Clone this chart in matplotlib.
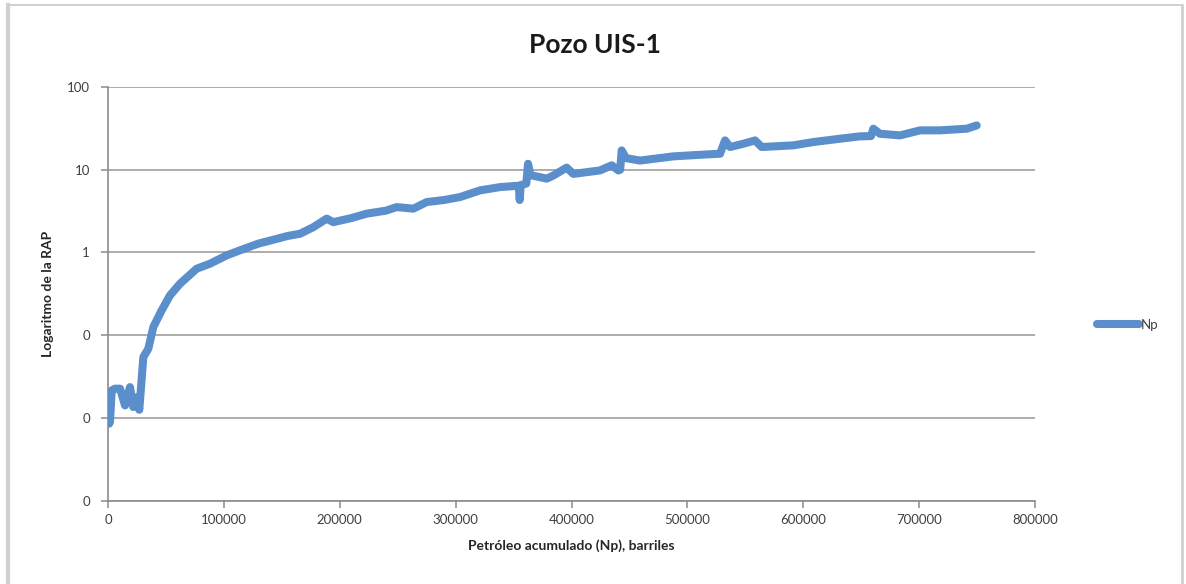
import matplotlib
matplotlib.use("Agg")
import matplotlib.pyplot as plt
from matplotlib.lines import Line2D

# Cumulative oil (barrels) and water-oil ratio (RAP) for well UIS-1
np_barrels = [
    1000, 1700, 3200, 6000, 10400, 14700, 19000, 21800, 24800, 27000,
    30500, 34800, 39100, 46300, 53500, 62100, 76500, 88000, 102400, 113900,
    130000, 145000, 155000, 165700, 177200, 188700, 194400, 210000, 223200, 240000,
    249100, 263500, 275000, 290000, 303800, 321000, 338300, 354500, 355300, 356200,
    361000, 362500, 364500, 378600, 384300, 395800, 401600, 424600, 434700, 440400,
    442000, 443300, 447000, 459100, 487900, 516700, 528200, 532500, 536800, 548300,
    558400, 564100, 591400, 608700, 631800, 649000, 658500, 660500, 666200, 683500,
    700800, 718000, 741000, 749700,
]
rap = [
    0.0085, 0.0089, 0.0214, 0.0225, 0.0225, 0.0141, 0.0235, 0.0135, 0.0177, 0.0125,
    0.0542, 0.0685, 0.125, 0.199, 0.302, 0.418, 0.635, 0.73, 0.92, 1.06,
    1.28, 1.45, 1.58, 1.68, 2.02, 2.56, 2.32, 2.6, 2.94, 3.2,
    3.53, 3.38, 4.06, 4.3, 4.67, 5.62, 6.16, 6.4, 4.3, 6.5,
    6.8, 11.8, 8.6, 7.8, 8.5, 10.6, 8.9, 9.8, 11.3, 9.8,
    10.0, 17.1, 13.8, 12.9, 14.5, 15.3, 15.6, 22.6, 18.8, 20.6,
    22.6, 18.8, 19.7, 21.6, 23.7, 25.3, 25.5, 31.3, 27.2, 26.0,
    29.9, 29.9, 31.3, 34.3,
]

x_ticks = [0, 100000, 200000, 300000, 400000, 500000, 600000, 700000, 800000]
y_ticks = [0.001, 0.01, 0.1, 1, 10, 100]
y_tick_labels = ["0", "0", "0", "1", "10", "100"]

title = "Pozo UIS-1"
x_label = "Petróleo acumulado (Np), barriles"
y_label = "Logaritmo de la RAP"
series_name = "Np"

line_color = "#5b8fcb"
grid_color = "#a6a6a6"
text_color = "#404040"

plt.rcParams["font.family"] = ["Lato", "DejaVu Sans"]

fig = plt.figure(figsize=(11.86, 5.84), dpi=100)
W, H = 1186, 584

ax = fig.add_axes([108 / W, 1 - 500.5 / H, (1035 - 108) / W, (500.5 - 87) / H])
ax.plot(np_barrels, rap, color=line_color, lw=5.8, solid_capstyle="round",
        solid_joinstyle="round", zorder=3)

ax.set_yscale("log")
ax.set_xlim(0, 800000)
ax.set_ylim(0.001, 100)
ax.set_xticks(x_ticks)
ax.set_xticklabels([str(v) for v in x_ticks])
ax.set_yticks(y_ticks)
ax.set_yticklabels(y_tick_labels)
ax.minorticks_off()

ax.grid(axis="y", color=grid_color, lw=1.3, zorder=0)
for side in ("top", "right"):
    ax.spines[side].set_visible(False)
for side in ("left", "bottom"):
    ax.spines[side].set_color("#8c8c8c")
    ax.spines[side].set_linewidth(1.2)
ax.tick_params(axis="both", which="major", direction="out", length=5,
               color="#8c8c8c", width=1.1, labelsize=9.5, labelcolor=text_color)
ax.tick_params(axis="x", pad=5)
ax.tick_params(axis="y", pad=8)

ax.set_xlabel(x_label, fontsize=10, fontweight="bold", color="#262626", labelpad=9)
ax.set_ylabel(y_label, fontsize=10, fontweight="bold", color="#262626", labelpad=9)

fig.text(595 / W, 1 - 45 / H, title, ha="center", va="center",
         fontsize=19, fontweight="bold", color="#1a1a1a")

handle = Line2D([0], [0], color=line_color, lw=5.8, solid_capstyle="round")
fig.legend([handle], [series_name], loc="center left",
           bbox_to_anchor=(1090 / W, 1 - 325 / H), frameon=False,
           fontsize=9.5, handlelength=3.2, handletextpad=0.15,
           labelcolor=text_color, borderpad=0)

# Outer chart frame
fig.add_artist(Line2D([8 / W, 1182 / W], [1 - 5 / H, 1 - 5 / H],
                      transform=fig.transFigure, color="#c8c8c8", lw=1.2))
fig.add_artist(Line2D([8 / W, 8 / W], [0, 1 - 5 / H],
                      transform=fig.transFigure, color="#cfcfcf", lw=3.0))
fig.add_artist(Line2D([1182 / W, 1182 / W], [0, 1 - 5 / H],
                      transform=fig.transFigure, color="#d0d0d0", lw=2.0))

fig.savefig("out.png", dpi=100, facecolor="white")
